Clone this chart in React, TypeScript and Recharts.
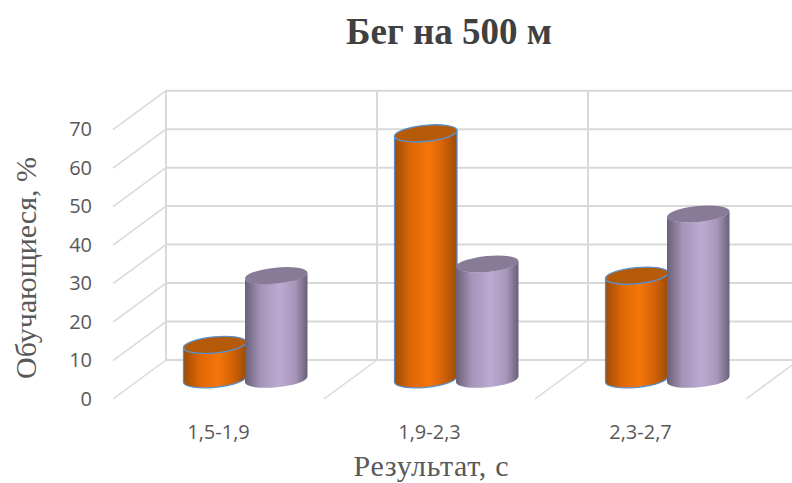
import { BarChart, Bar, XAxis, YAxis, CartesianGrid } from 'recharts';

const categories = ['1,5-1,9', '1,9-2,3', '2,3-2,7'];
const orangeValues = [9, 64, 27];
const purpleValues = [27, 30, 43];
const yTicks = [0, 10, 20, 30, 40, 50, 60, 70];

const data = categories.map((name, i) => ({
    name,
    orange: orangeValues[i],
    purple: purpleValues[i],
}));

// 3D look: the plot area is the back wall, everything else is pushed towards the viewer
const PLOT_LEFT = 166;
const BAND = 211;
const FRONT_DX = -53;
const FRONT_DY = 39;
const GRID = '#d9d9d9';
const SERIF = '"Liberation Serif", serif';
const SANS = '"Open Sans", sans-serif';

function Cylinder(props: any) {
    const { x, y, width, height, side, top, outline } = props;
    const rx = width / 2 + 0.15;
    const ry = 8;
    const cx = x + width / 2 + FRONT_DX / 2;
    const cyTop = y + FRONT_DY / 2;
    const cyBottom = y + height + FRONT_DY / 2;
    const halfW = width / 2;
    const tilt = 3;
    const body = `M ${cx - halfW} ${cyTop + tilt} L ${cx - halfW} ${cyBottom + tilt}
        A ${rx} ${ry} -5.5 0 0 ${cx + halfW} ${cyBottom - tilt}
        L ${cx + halfW} ${cyTop - tilt}
        A ${rx} ${ry} -5.5 0 1 ${cx - halfW} ${cyTop + tilt} Z`;
    return (
        <g>
            <path d={body} fill={`url(#${side})`} stroke={outline ?? 'none'} strokeWidth={1.3} />
            <ellipse
                cx={cx}
                cy={cyTop}
                rx={rx}
                ry={ry}
                transform={`rotate(-5.5 ${cx} ${cyTop})`}
                fill={top}
                stroke={outline ?? 'none'}
                strokeWidth={1.3}
            />
        </g>
    );
}

function YTick({ y, payload }: any) {
    return (
        <g>
            <line
                x1={PLOT_LEFT}
                y1={y}
                x2={PLOT_LEFT + FRONT_DX}
                y2={y + FRONT_DY}
                stroke={GRID}
                strokeWidth={1.5}
            />
            <text x={92} y={y + FRONT_DY - 1} textAnchor="end" dominantBaseline="central" fontFamily={SANS} fontSize={20} fill="#595959">
                {payload.value}
            </text>
        </g>
    );
}

function XTick({ x, y, payload }: any) {
    const right = x + BAND / 2;
    return (
        <g>
            <line x1={right} y1={y} x2={right + FRONT_DX} y2={y + FRONT_DY} stroke={GRID} strokeWidth={1.5} />
            <text x={x + FRONT_DX} y={431} textAnchor="middle" dominantBaseline="central" fontFamily={SANS} fontSize={20} fill="#595959">
                {payload.value}
            </text>
        </g>
    );
}

export default function App() {
    return (
        <div style={{ position: 'fixed', left: 0, top: 0, width: 792, height: 483, overflow: 'hidden', background: '#fff' }}>
            <BarChart
                width={800}
                height={483}
                data={data}
                margin={{ top: 90.7, right: 1, bottom: 0, left: 0 }}
                barSize={62.5}
                barGap={-1}
            >
                <defs>
                    <linearGradient id="orangeSide" x1="0" y1="0" x2="1" y2="0">
                        <stop offset="0%" stopColor="#9c4c06" />
                        <stop offset="25%" stopColor="#dd6606" />
                        <stop offset="55%" stopColor="#f57609" />
                        <stop offset="80%" stopColor="#d06006" />
                        <stop offset="100%" stopColor="#9c4c06" />
                    </linearGradient>
                    <linearGradient id="purpleSide" x1="0" y1="0" x2="1" y2="0">
                        <stop offset="0%" stopColor="#6a6078" />
                        <stop offset="25%" stopColor="#a594b8" />
                        <stop offset="55%" stopColor="#bcaad2" />
                        <stop offset="80%" stopColor="#a897ba" />
                        <stop offset="100%" stopColor="#6a6078" />
                    </linearGradient>
                </defs>
                <CartesianGrid
                    stroke={GRID}
                    strokeWidth={2}
                    verticalPoints={[PLOT_LEFT, PLOT_LEFT + BAND, PLOT_LEFT + BAND * 2, PLOT_LEFT + BAND * 3]}
                />
                <XAxis dataKey="name" height={123} axisLine={false} tickLine={false} tickSize={0} tick={<XTick />} tickMargin={0} interval={0} />
                <YAxis
                    domain={[0, 70]}
                    ticks={yTicks}
                    width={PLOT_LEFT}
                    axisLine={false}
                    tickLine={false}
                    tick={<YTick />}
                    interval={0}
                />
                <Bar
                    dataKey="orange"
                    isAnimationActive={false}
                    shape={<Cylinder side="orangeSide" top="#b55a07" outline="#5b8fc9" />}
                />
                <Bar
                    dataKey="purple"
                    isAnimationActive={false}
                    shape={<Cylinder side="purpleSide" top="#887b98" />}
                />
                <text x={449} y={31} textAnchor="middle" dominantBaseline="central" fontFamily={SERIF} fontWeight="bold" fontSize={37} fill="#404040">
                    Бег на 500 м
                </text>
                <text
                    x={25}
                    y={268}
                    transform="rotate(-90 25 268)"
                    textAnchor="middle"
                    dominantBaseline="central"
                    fontFamily={SERIF}
                    fontSize={30}
                    fill="#595959"
                >
                    Обучающиеся, %
                </text>
                <text x={431} y={465} textAnchor="middle" dominantBaseline="central" fontFamily={SERIF} fontSize={30} textLength={155} fill="#595959">
                    Результат, с
                </text>
            </BarChart>
        </div>
    );
}
